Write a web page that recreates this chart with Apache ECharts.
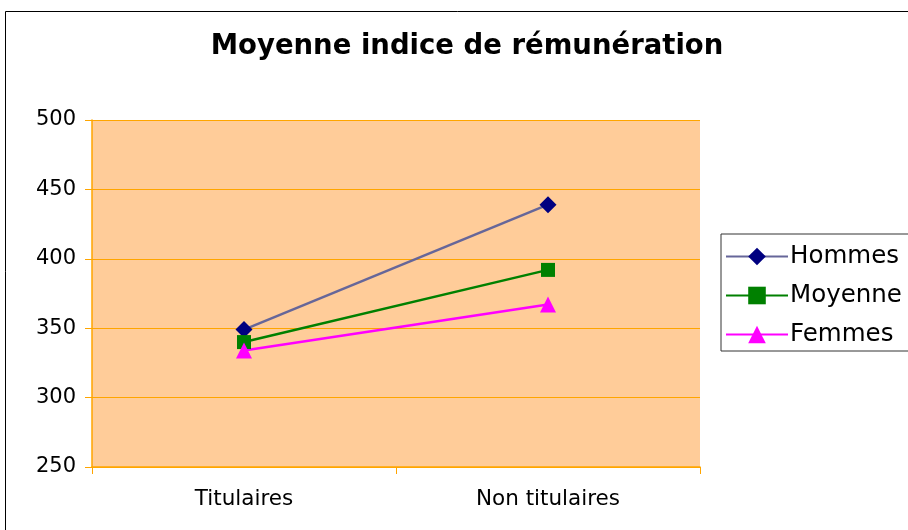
<!DOCTYPE html>
<html>
<head>
<meta charset="utf-8">
<script src="https://cdn.jsdelivr.net/npm/echarts@6/dist/echarts.min.js"></script>
<style>
  html, body { margin: 0; padding: 0; background: #fff; }
  #main { width: 908px; height: 530px; }
</style>
</head>
<body>
<div id="main"></div>
<script>
// data
var categories = ['Titulaires', 'Non titulaires']
var hommes = [349, 439]
var moyenne = [340, 392]
var femmes = [334, 367]
var yTicks = [250, 300, 350, 400, 450, 500]

var myChart = echarts.init(document.getElementById('main'))
var font = 'DejaVu Sans, Verdana, sans-serif'

var option = {
  backgroundColor: '#fff',
  animation: false,
  title: {
    text: 'Moyenne indice de rémunération',
    left: 462,
    textAlign: 'center',
    top: 28,
    textStyle: { fontFamily: font, fontSize: 27.5, fontWeight: 'bold', color: '#000' }
  },
  graphic: [
    {
      type: 'rect',
      shape: { x: 5.5, y: 11.5, width: 920, height: 540 },
      style: { fill: 'none', stroke: '#000', lineWidth: 1 },
      silent: true
    }
  ],
  legend: {
    orient: 'vertical',
    left: 721,
    top: 234,
    padding: [10, 12, 4, 4],
    itemGap: 14,
    itemWidth: 62,
    itemHeight: 22,
    borderColor: '#333',
    borderWidth: 1,
    textStyle: { fontFamily: font, fontSize: 24.5, color: '#000', padding: [0, 0, 0, -3] },
    data: ['Hommes', 'Moyenne', 'Femmes']
  },
  grid: { left: 92, top: 120, width: 608, height: 347 },
  xAxis: {
    type: 'category',
    data: categories,
    boundaryGap: true,
    axisLine: { lineStyle: { color: '#FFA500', width: 1.5 } },
    axisTick: { show: true, length: 7, lineStyle: { color: '#FFA500' } },
    axisLabel: { fontFamily: font, fontSize: 21.5, color: '#000', margin: 21 }
  },
  yAxis: {
    type: 'value',
    min: yTicks[0],
    max: yTicks[yTicks.length - 1],
    interval: 50,
    axisLine: { show: true, lineStyle: { color: '#FFA500', width: 1.5 } },
    axisTick: { show: true, length: 7, lineStyle: { color: '#FFA500' } },
    axisLabel: { fontFamily: font, fontSize: 21, color: '#000', margin: 16 },
    splitLine: { show: true, lineStyle: { color: '#FFA500', width: 1 } },
    splitArea: { show: true, areaStyle: { color: ['#FFCC99', '#FFCC99'] } }
  },
  series: [
    {
      name: 'Hommes',
      type: 'line',
      data: hommes,
      symbol: 'diamond',
      symbolSize: 17,
      lineStyle: { color: '#666699', width: 2.5 },
      itemStyle: { color: '#000080' }
    },
    {
      name: 'Moyenne',
      type: 'line',
      data: moyenne,
      symbol: 'rect',
      symbolSize: 14,
      lineStyle: { color: '#008000', width: 2.5 },
      itemStyle: { color: '#008000' }
    },
    {
      name: 'Femmes',
      type: 'line',
      data: femmes,
      symbol: 'triangle',
      symbolSize: 16,
      lineStyle: { color: '#FF00FF', width: 2.5 },
      itemStyle: { color: '#FF00FF' }
    }
  ]
}
myChart.setOption(option)
</script>
</body>
</html>
